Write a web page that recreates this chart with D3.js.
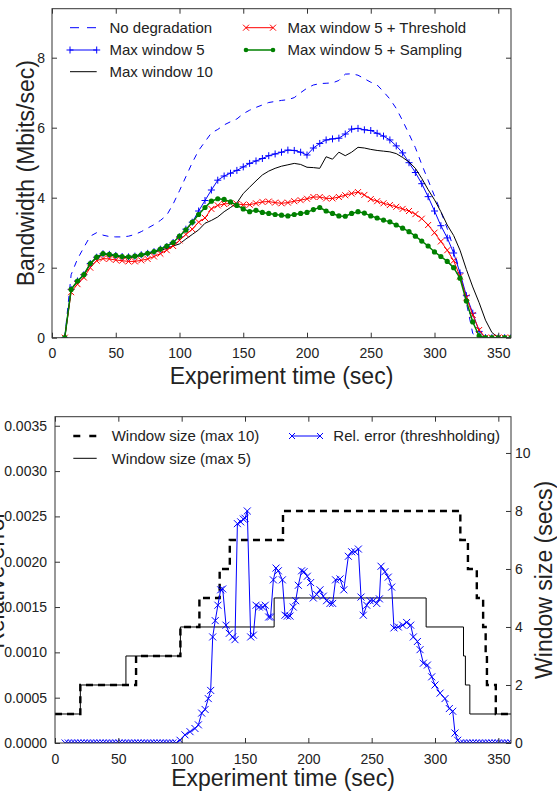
<!DOCTYPE html>
<html lang="en">

<head>
    <meta charset="UTF-8" />
    <script src="https://d3js.org/d3.v7.min.js"></script>
    <title>Bandwidth and window size</title>
    <style>
        body {
            margin: 0;
            background: white;
        }

        svg {
            display: block;
        }

        text {
            font-family: "Liberation Sans", Arial, sans-serif;
            fill: #222;
        }
    </style>
</head>

<body>
    <script>
        // ---- top chart data (time in sec, bandwidth in Mbits/sec)
        const times = [10, 15, 20, 25, 30, 35, 40, 45, 50, 55, 60, 65, 70, 75, 80, 85, 90, 95, 100,
            105, 110, 115, 120, 125, 130, 135, 140, 145, 150, 155, 160, 165, 170, 175, 180, 185, 190,
            195, 200, 205, 210, 215, 220, 225, 230, 235, 240, 245, 250, 255, 260, 265, 270, 275, 280,
            285, 290, 295, 300, 305, 310, 315, 320, 325, 330, 335, 340, 345, 350, 355, 360];

        const noDegradation = [0, 1.8, 2.25, 2.58, 2.9, 3.0, 2.93, 2.89, 2.88, 2.88, 2.9, 2.95, 3.03,
            3.13, 3.23, 3.35, 3.5, 3.82, 4.2, 4.6, 5.0, 5.35, 5.6, 5.85, 5.95, 6.08, 6.17, 6.25, 6.4,
            6.5, 6.58, 6.65, 6.72, 6.75, 6.78, 6.8, 6.86, 7.0, 7.13, 7.22, 7.26, 7.27, 7.28, 7.35,
            7.53, 7.54, 7.5, 7.4, 7.3, 7.22, 7.03, 6.82, 6.55, 6.2, 5.82, 5.43, 4.95, 4.5, 4.05, 3.6,
            3.12, 2.55, 1.85, 1.0, 0.12, 0, 0, 0, 0, 0, 0];

        const maxWindow5 = [0, 1.38, 1.62, 1.8, 2.12, 2.3, 2.4, 2.38, 2.35, 2.32, 2.31, 2.33, 2.37,
            2.41, 2.46, 2.53, 2.6, 2.72, 2.88, 3.1, 3.3, 3.62, 3.92, 4.22, 4.5, 4.62, 4.7, 4.78, 4.88,
            4.98, 5.05, 5.12, 5.2, 5.25, 5.3, 5.36, 5.35, 5.3, 5.22, 5.42, 5.55, 5.65, 5.68, 5.7,
            5.82, 5.96, 5.98, 5.94, 5.92, 5.84, 5.76, 5.65, 5.48, 5.28, 5.0, 4.72, 4.4, 4.03, 3.62,
            3.2, 2.85, 2.42, 1.85, 1.2, 0.7, 0.18, 0, 0, 0, 0, 0];

        const maxWindow10 = [0, 1.38, 1.6, 1.78, 2.1, 2.28, 2.38, 2.36, 2.33, 2.3, 2.29, 2.31, 2.35,
            2.39, 2.44, 2.5, 2.55, 2.62, 2.68, 2.82, 2.95, 3.08, 3.27, 3.35, 3.45, 3.6, 3.72, 3.85,
            4.12, 4.3, 4.48, 4.65, 4.76, 4.84, 4.9, 4.94, 4.98, 4.95, 4.87, 4.86, 4.84, 5.17, 5.1,
            5.3, 5.2, 5.3, 5.44, 5.42, 5.38, 5.35, 5.33, 5.31, 5.26, 5.15, 5.02, 4.84, 4.55, 4.23,
            3.94, 3.6, 3.22, 2.92, 2.5, 1.95, 1.45, 1.0, 0.5, 0.15, 0, 0, 0];

        const maxWindow5Threshold = [0, 1.3, 1.53, 1.72, 2.0, 2.2, 2.26, 2.25, 2.22, 2.2, 2.18,
            2.18, 2.21, 2.25, 2.32, 2.4, 2.5, 2.62, 2.78, 2.95, 3.1, 3.3, 3.42, 3.68, 3.78, 3.82,
            3.84, 3.82, 3.8, 3.8, 3.84, 3.88, 3.89, 3.86, 3.84, 3.86, 3.9, 3.93, 3.97, 4.02, 4.02,
            3.98, 3.98, 4.02, 4.07, 4.12, 4.16, 4.08, 3.96, 3.9, 3.84, 3.79, 3.74, 3.68, 3.62, 3.53,
            3.4, 3.22, 3.0, 2.75, 2.5, 2.2, 1.75, 1.15, 0.65, 0.22, 0, 0, 0, 0, 0];

        const maxWindow5Sampling = [0, 1.38, 1.62, 1.8, 2.12, 2.3, 2.4, 2.38, 2.35, 2.32, 2.31,
            2.33, 2.37, 2.41, 2.46, 2.53, 2.62, 2.72, 2.9, 3.08, 3.3, 3.52, 3.72, 3.9, 3.97, 3.95,
            3.88, 3.78, 3.68, 3.6, 3.64, 3.58, 3.55, 3.52, 3.5, 3.48, 3.52, 3.55, 3.58, 3.66, 3.72,
            3.62, 3.55, 3.48, 3.47, 3.55, 3.6, 3.56, 3.48, 3.42, 3.36, 3.31, 3.22, 3.13, 3.03, 2.9,
            2.76, 2.62, 2.45, 2.32, 2.18, 2.0, 1.7, 1.05, 0.45, 0.05, 0, 0, 0, 0, 0];

        const topXTicks = [0, 50, 100, 150, 200, 250, 300, 350];
        const topYTicks = [0, 2, 4, 6, 8];

        // ---- bottom chart data
        // window sizes as step changes: value holds from this time to the next
        const windowMax10Times = [0, 20, 64, 99, 114, 130, 138, 180, 320, 326, 333, 338, 340, 341, 348, 360];
        const windowMax10Values = [1, 2, 3, 4, 5, 6, 7, 8, 7, 6, 5, 4, 3, 2, 1, 1];
        const windowMax5Times = [0, 20, 56, 99, 173, 293, 322.5, 324, 327.5, 360];
        const windowMax5Values = [1, 2, 3, 4, 5, 4, 3, 2, 1, 1];

        const relErrTimes = [8, 10.5, 13, 15.5, 18, 20.5, 23, 25.5, 28, 30.5, 33, 35.5, 38, 40.5, 43,
            45.5, 48, 50.5, 53, 55.5, 58, 60.5, 63, 65.5, 68, 70.5, 73, 75.5, 78, 80.5, 83, 85.5, 88,
            90.5, 93, 95.5, 98.7, 102.6, 106.6, 110.5, 113.2, 115.8, 118.5, 121, 122.9, 124.5, 126.5,
            128.6, 130.8, 132.4, 135, 137.6, 140.3, 142.1, 144, 146.6, 148.7, 150, 151.8, 154.5,
            156.6, 158.7, 161.3, 163.9, 166, 168.7, 170.2, 172.4, 174.5, 176.3, 179.5, 181.6, 183.4,
            185.5, 188.1, 190, 192.1, 194.7, 196.6, 199.2, 201.8, 203.9, 206.5, 209.2, 211.8, 214.4,
            217.1, 219.2, 221.5, 225, 228, 231.6, 234.2, 236.8, 239.5, 241.6, 243.4, 246.1, 248.7,
            251.4, 254, 256.1, 257.4, 260.5, 263.1, 265.8, 267.6, 271, 274.5, 277.6, 280.8, 282.9,
            286.1, 288.2, 290.8, 294, 297.4, 300, 304, 307.9, 311.3, 314, 315.8, 317.9, 320, 322.5,
            325, 327.5, 330, 332.5, 335, 337.5, 340, 342.5, 345, 347.5, 350, 352.5, 355, 357.5, 360];

        const relErrValues = [0, 0, 0, 0, 0, 0, 0, 0, 0, 0, 0, 0, 0, 0, 0, 0, 0, 0, 0, 0, 0, 0, 0, 0,
            0, 0, 0, 0, 0, 0, 0, 0, 0, 0, 0, 0, 0.00003, 0.00009, 0.000125, 0.00016, 0.0002, 0.00033,
            0.00037, 0.00049, 0.00058, 0.00117, 0.00135, 0.00152, 0.00169, 0.0017, 0.0013, 0.00121,
            0.00117, 0.00114, 0.00242, 0.00244, 0.00247, 0.00248, 0.00256, 0.00117, 0.00119,
            0.00152, 0.0015, 0.0015, 0.00152, 0.00139, 0.00139, 0.0018, 0.00193, 0.0019, 0.0018,
            0.00141, 0.0014, 0.0014, 0.0015, 0.00157, 0.00174, 0.0019, 0.00189, 0.00184, 0.00177,
            0.0016, 0.00164, 0.00169, 0.00162, 0.00157, 0.00154, 0.00154, 0.0018, 0.00181, 0.00169,
            0.00206, 0.00211, 0.00211, 0.00214, 0.00161, 0.00141, 0.00152, 0.00157, 0.00157,
            0.00154, 0.00159, 0.00195, 0.00189, 0.00183, 0.00172, 0.00127, 0.00128, 0.0013, 0.00133,
            0.0013, 0.00117, 0.00112, 0.00103, 0.00088, 0.00086, 0.00073, 0.00064, 0.00055, 0.00049,
            0.00038, 0.00035, 0.00011, 0.00003, 0, 0, 0, 0, 0, 0, 0, 0, 0, 0, 0, 0, 0, 0, 0, 0, 0];

        const bottomXTicks = [0, 50, 100, 150, 200, 250, 300, 350];
        const relErrTicks = [0, 0.0005, 0.001, 0.0015, 0.002, 0.0025, 0.003, 0.0035];
        const windowTicks = [0, 2, 4, 6, 8, 10];

        // ---------------------------------------------------------------
        const FONT = '"Liberation Sans", Arial, sans-serif';
        const plusPath = 'M-3.5,0H3.5M0,-3.5V3.5';
        const crossPath = 'M-3,-3L3,3M-3,3L3,-3';
        const bigCrossPath = 'M-3.5,-3.5L3.5,3.5M-3.5,3.5L3.5,-3.5';

        const svg = d3.select('body')
            .append('svg')
            .attr('width', 557)
            .attr('height', 791);

        const styleAxis = (g) => {
            g.attr('font-size', 14).attr('font-family', FONT);
            g.select('.domain').remove();
            g.selectAll('.tick line').attr('stroke', '#333');
            g.selectAll('.tick text').attr('fill', '#222');
        };

        const drawFrame = (box) => {
            svg.append('rect')
                .attr('x', box.left)
                .attr('y', box.top)
                .attr('width', box.right - box.left)
                .attr('height', box.bottom - box.top)
                .attr('fill', 'none')
                .attr('stroke', '#333');
        };

        const addClip = (id, box) => {
            svg.append('clipPath').attr('id', id)
                .append('rect')
                .attr('x', box.left)
                .attr('y', box.top)
                .attr('width', box.right - box.left)
                .attr('height', box.bottom - box.top);
        };

        // ================= TOP CHART =================
        const box1 = { left: 52, right: 511, top: 8.7, bottom: 337.7 };
        const x1 = d3.scaleLinear().domain([0, 360]).range([box1.left, box1.right]);
        const y1 = d3.scaleLinear().domain([0, 9.4]).range([box1.bottom, box1.top]);
        addClip('clip1', box1);

        const topSeries = [
            { name: 'No degradation', values: noDegradation, color: '#0000ff', dash: '6,6', marker: null },
            { name: 'Max window 5', values: maxWindow5, color: '#0000ff', dash: null, marker: 'plus' },
            { name: 'Max window 10', values: maxWindow10, color: '#000000', dash: null, marker: null },
            { name: 'Max window 5 + Threshold', values: maxWindow5Threshold, color: '#ff0000', dash: null, marker: 'cross' },
            { name: 'Max window 5 + Sampling', values: maxWindow5Sampling, color: '#008000', dash: null, marker: 'dot' }
        ];

        const plot1 = svg.append('g').attr('clip-path', 'url(#clip1)');

        const line1 = d3.line()
            .x((d, i) => x1(times[i]))
            .y(d => y1(d));

        topSeries.forEach(s => {
            const g = plot1.append('g');
            g.append('path')
                .attr('d', line1(s.values))
                .attr('fill', 'none')
                .attr('stroke', s.color)
                .attr('stroke-width', s.marker === 'dot' ? 1.5 : 1)
                .attr('stroke-dasharray', s.dash);
            if (s.marker === 'dot') {
                g.selectAll('circle').data(s.values).join('circle')
                    .attr('cx', (d, i) => x1(times[i]))
                    .attr('cy', d => y1(d))
                    .attr('r', 2.6)
                    .attr('fill', s.color);
            } else if (s.marker) {
                g.selectAll('path.m').data(s.values).join('path')
                    .attr('class', 'm')
                    .attr('transform', (d, i) => `translate(${x1(times[i])},${y1(d)})`)
                    .attr('d', s.marker === 'plus' ? plusPath : crossPath)
                    .attr('fill', 'none')
                    .attr('stroke', s.color)
                    .attr('stroke-width', 1);
            }
        });

        drawFrame(box1);

        svg.append('g')
            .attr('transform', `translate(0,${box1.bottom})`)
            .call(d3.axisBottom(x1).tickValues(topXTicks).tickSize(-5).tickPadding(10.5))
            .call(styleAxis);
        svg.append('g')
            .attr('transform', `translate(0,${box1.top})`)
            .call(d3.axisTop(x1).tickValues(topXTicks).tickSize(-5).tickFormat(''))
            .call(styleAxis);
        svg.append('g')
            .attr('transform', `translate(${box1.left},0)`)
            .call(d3.axisLeft(y1).tickValues(topYTicks).tickSize(-5).tickPadding(7))
            .call(styleAxis);
        svg.append('g')
            .attr('transform', `translate(${box1.right},0)`)
            .call(d3.axisRight(y1).tickValues(topYTicks).tickSize(-5).tickFormat(''))
            .call(styleAxis);

        svg.append('text')
            .attr('x', (box1.left + box1.right) / 2)
            .attr('y', 384)
            .attr('text-anchor', 'middle')
            .style('font-size', '23px')
            .text('Experiment time (sec)');

        svg.append('text')
            .attr('transform', `translate(34,${(box1.top + box1.bottom) / 2}) rotate(-90)`)
            .attr('text-anchor', 'middle')
            .style('font-size', '23px')
            .text('Bandwidth (Mbits/sec)');

        // legend, top chart
        const legend1 = [
            { col: 0, row: 0 }, { col: 0, row: 1 }, { col: 0, row: 2 }, { col: 1, row: 0 }, { col: 1, row: 1 }
        ];
        const legX1 = [[70, 96.7, 109.5], [246, 273, 287.5]];
        const legY1 = [27.7, 50, 71.7];
        topSeries.forEach((s, i) => {
            const pos = legend1[i];
            const [a, b, tx] = legX1[pos.col];
            const yy = legY1[pos.row];
            const g = svg.append('g');
            g.append('line')
                .attr('x1', a).attr('x2', b).attr('y1', yy).attr('y2', yy)
                .attr('stroke', s.color)
                .attr('stroke-width', s.marker === 'dot' ? 1.5 : 1)
                .attr('stroke-dasharray', s.dash ? '9,8' : null);
            if (s.marker === 'dot') {
                g.selectAll('circle').data([a, b]).join('circle')
                    .attr('cx', d => d).attr('cy', yy).attr('r', 2.3).attr('fill', s.color);
            } else if (s.marker) {
                g.selectAll('path').data([a, b]).join('path')
                    .attr('transform', d => `translate(${d},${yy})`)
                    .attr('d', s.marker === 'plus' ? plusPath : crossPath)
                    .attr('stroke', s.color).attr('fill', 'none');
            }
            g.append('text')
                .attr('x', tx).attr('y', yy + 5.4)
                .style('font-size', '15px')
                .text(s.name);
        });

        // ================= BOTTOM CHART =================
        const box2 = { left: 55, right: 511, top: 416.7, bottom: 743 };
        const x2 = d3.scaleLinear().domain([0, 360]).range([box2.left, box2.right]);
        const yErr = d3.scaleLinear().domain([0, 0.0036]).range([box2.bottom, box2.top]);
        const yWin = d3.scaleLinear().domain([0, 11.25]).range([box2.bottom, box2.top]);
        addClip('clip2', box2);

        const plot2 = svg.append('g').attr('clip-path', 'url(#clip2)');

        const stepLine = d3.line()
            .x(d => x2(d[0]))
            .y(d => yWin(d[1]))
            .curve(d3.curveStepAfter);

        plot2.append('path')
            .attr('d', stepLine(windowMax10Times.map((t, i) => [t, windowMax10Values[i]])))
            .attr('fill', 'none')
            .attr('stroke', '#000')
            .attr('stroke-width', 2.4)
            .attr('stroke-dasharray', '7,5');

        plot2.append('path')
            .attr('d', stepLine(windowMax5Times.map((t, i) => [t, windowMax5Values[i]])))
            .attr('fill', 'none')
            .attr('stroke', '#000')
            .attr('stroke-width', 1);

        const errLine = d3.line()
            .x((d, i) => x2(relErrTimes[i]))
            .y(d => yErr(d));

        plot2.append('path')
            .attr('d', errLine(relErrValues))
            .attr('fill', 'none')
            .attr('stroke', '#0000ff')
            .attr('stroke-width', 1);

        plot2.selectAll('path.err').data(relErrValues).join('path')
            .attr('class', 'err')
            .attr('transform', (d, i) => `translate(${x2(relErrTimes[i])},${yErr(d)})`)
            .attr('d', bigCrossPath)
            .attr('fill', 'none')
            .attr('stroke', '#0000ff')
            .attr('stroke-width', 1);

        drawFrame(box2);

        svg.append('g')
            .attr('transform', `translate(0,${box2.bottom})`)
            .call(d3.axisBottom(x2).tickValues(bottomXTicks).tickSize(-5).tickPadding(11))
            .call(styleAxis);
        svg.append('g')
            .attr('transform', `translate(0,${box2.top})`)
            .call(d3.axisTop(x2).tickValues(bottomXTicks).tickSize(-5).tickFormat(''))
            .call(styleAxis);
        svg.append('g')
            .attr('transform', `translate(${box2.left},0)`)
            .call(d3.axisLeft(yErr).tickValues(relErrTicks).tickSize(-5).tickPadding(8).tickFormat(d3.format('.4f')))
            .call(styleAxis);
        svg.append('g')
            .attr('transform', `translate(${box2.right},0)`)
            .call(d3.axisRight(yWin).tickValues(windowTicks).tickSize(-5).tickPadding(4))
            .call(styleAxis);

        svg.append('text')
            .attr('x', (box2.left + box2.right) / 2)
            .attr('y', 786)
            .attr('text-anchor', 'middle')
            .style('font-size', '23px')
            .text('Experiment time (sec)');

        svg.append('text')
            .attr('transform', `translate(4,${(box2.top + box2.bottom) / 2}) rotate(-90)`)
            .attr('text-anchor', 'middle')
            .style('font-size', '23px')
            .text('Relative error');

        svg.append('text')
            .attr('transform', `translate(552,${(box2.top + box2.bottom) / 2}) rotate(-90)`)
            .attr('text-anchor', 'middle')
            .style('font-size', '23px')
            .text('Window size (secs)');

        // legend, bottom chart
        const leg2 = svg.append('g');
        leg2.append('line')
            .attr('x1', 73.3).attr('x2', 96.7).attr('y1', 436).attr('y2', 436)
            .attr('stroke', '#000').attr('stroke-width', 2.4).attr('stroke-dasharray', '7,9');
        leg2.append('text').attr('x', 111.7).attr('y', 441.4).style('font-size', '15px')
            .text('Window size (max 10)');
        leg2.append('line')
            .attr('x1', 73.3).attr('x2', 96.7).attr('y1', 458.3).attr('y2', 458.3)
            .attr('stroke', '#000').attr('stroke-width', 1);
        leg2.append('text').attr('x', 111.7).attr('y', 463.7).style('font-size', '15px')
            .text('Window size (max 5)');
        leg2.append('line')
            .attr('x1', 292).attr('x2', 320).attr('y1', 436).attr('y2', 436)
            .attr('stroke', '#0000ff').attr('stroke-width', 1);
        leg2.selectAll('path').data([292, 320]).join('path')
            .attr('transform', d => `translate(${d},436)`)
            .attr('d', crossPath)
            .attr('stroke', '#0000ff').attr('fill', 'none');
        leg2.append('text').attr('x', 333.3).attr('y', 441.4).style('font-size', '15px')
            .text('Rel. error (threshholding)');
    </script>
</body>

</html>
